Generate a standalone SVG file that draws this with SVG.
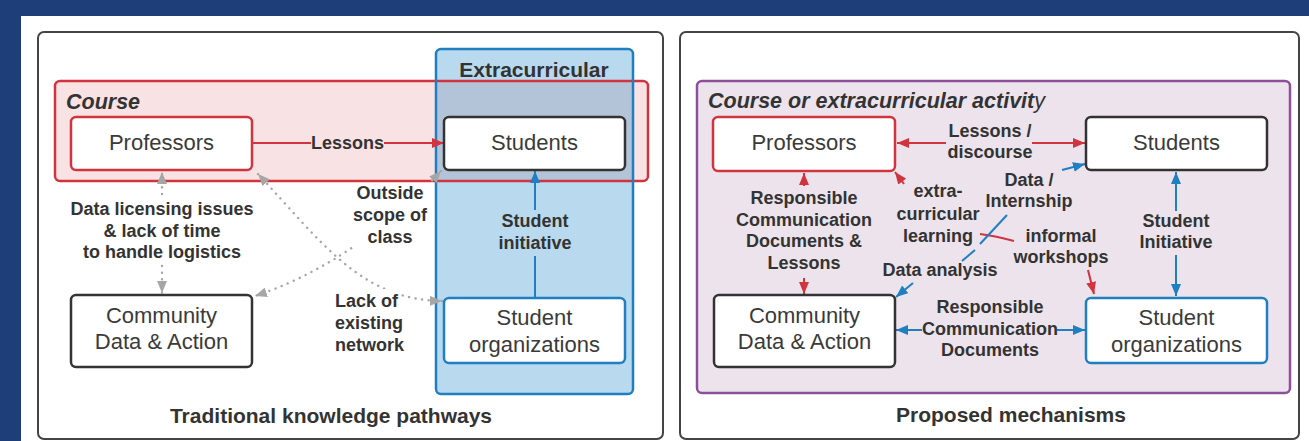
<svg xmlns="http://www.w3.org/2000/svg" width="1309" height="441" viewBox="0 0 1309 441">
  <style>
    text { font-family: "Liberation Sans", Arial, sans-serif; fill: #333; }
    .node { font-size: 22px; text-anchor: middle; fill: #3a3a3a; }
    .lbl { font-size: 18px; font-weight: bold; text-anchor: middle; }
    .lbl-l { font-size: 18px; font-weight: bold; text-anchor: start; }
    .title { font-size: 21px; font-weight: bold; text-anchor: middle; }
    .head { font-size: 21.5px; font-weight: bold; font-style: italic; }
    .panel { fill: #fff; stroke: #444; stroke-width: 2; }
    .box { fill: #fff; stroke-width: 2.5; }
    .k { stroke: #333; }
    .r { stroke: #d1343e; }
    .b { stroke: #1f7fc1; }
    .red { stroke: #d1343e; stroke-width: 2; fill: none; }
    .blue { stroke: #1f7fc1; stroke-width: 2; fill: none; }
    .dot { stroke: #a6a6a6; stroke-width: 2.4; fill: none; stroke-dasharray: 0.1 6.5; stroke-linecap: round; }
  </style>
  <defs>
    <marker id="arR" viewBox="0 0 12 10" refX="12" refY="5" markerWidth="12" markerHeight="10" markerUnits="userSpaceOnUse" orient="auto-start-reverse">
      <path d="M0,0 L12,5 L0,10 z" fill="#d1343e"/>
    </marker>
    <marker id="arB" viewBox="0 0 12 10" refX="12" refY="5" markerWidth="12" markerHeight="10" markerUnits="userSpaceOnUse" orient="auto-start-reverse">
      <path d="M0,0 L12,5 L0,10 z" fill="#1f7fc1"/>
    </marker>
    <marker id="arG" viewBox="0 0 12 10" refX="12" refY="5" markerWidth="12" markerHeight="10" markerUnits="userSpaceOnUse" orient="auto-start-reverse">
      <path d="M0,0 L12,5 L0,10 z" fill="#a6a6a6"/>
    </marker>
    <!-- keeps dotted curves out from under their labels -->
    <mask id="labelGap" maskUnits="userSpaceOnUse" x="0" y="0" width="1309" height="441">
      <rect x="0" y="0" width="1309" height="441" fill="#fff"/>
      <rect x="352" y="180" width="78" height="68" fill="#000"/>
      <rect x="332" y="289" width="68" height="22" fill="#000"/>
    </mask>
  </defs>

  <!-- page background -->
  <rect x="0" y="0" width="1309" height="441" fill="#1e3e7a"/>
  <rect x="21" y="16" width="1288" height="425" fill="#fff"/>

  <!-- ===== left panel: traditional pathways ===== -->
  <rect class="panel" x="38" y="32" width="625" height="407" rx="6"/>

  <g id="extracurricular">
    <rect x="436" y="49" width="197" height="345" rx="5" fill="#b9d9ee"/>
  </g>
  <g id="course">
    <rect x="55" y="81" width="593" height="100" rx="5" fill="#f9e2e4"/>
    <rect x="436" y="81" width="197" height="100" fill="#b3c4d8"/>
    <rect x="55" y="81" width="593" height="100" rx="5" fill="none" stroke="#d1343e" stroke-width="2.5"/>
    <text class="head" x="66" y="109">Course</text>
  </g>
  <rect x="436" y="49" width="197" height="345" rx="5" fill="none" stroke="#1f7fc1" stroke-width="2.5"/>
  <text class="title" x="534" y="77">Extracurricular</text>

  <g id="connectors-left">
    <!-- Professors to Students -->
    <path class="red" d="M252,143 H311"/>
    <path class="red" d="M384,143 H444" marker-end="url(#arR)"/>
    <text class="lbl" x="347.5" y="149">Lessons</text>

    <!-- Professors / Community -->
    <path class="dot" d="M162,194 V172" marker-end="url(#arG)"/>
    <path class="dot" d="M162,266 V293" marker-end="url(#arG)"/>
    <text class="lbl" x="162" y="215">Data licensing issues</text>
    <text class="lbl" x="162" y="237">&amp; lack of time</text>
    <text class="lbl" x="162" y="258">to handle logistics</text>

    <!-- Students / Community -->
    <path class="dot" d="M441,171 C405,210 340,268 255,296" mask="url(#labelGap)" marker-start="url(#arG)" marker-end="url(#arG)"/>
    <text class="lbl" x="390" y="199">Outside</text>
    <text class="lbl" x="390" y="221">scope of</text>
    <text class="lbl" x="390" y="243">class</text>

    <!-- Professors / Student organizations -->
    <path class="dot" d="M258,174 C320,240 360,300 442,301" mask="url(#labelGap)" marker-start="url(#arG)" marker-end="url(#arG)"/>
    <text class="lbl-l" x="335" y="307">Lack of</text>
    <text class="lbl-l" x="335" y="329">existing</text>
    <text class="lbl-l" x="335" y="351">network</text>

    <!-- Student organizations to Students -->
    <path class="blue" d="M535,210 V171" marker-end="url(#arB)"/>
    <path class="blue" d="M535,256 V298"/>
    <text class="lbl" x="535" y="227">Student</text>
    <text class="lbl" x="535" y="249">initiative</text>
  </g>

  <g id="professors-l">
    <rect class="box r" x="71" y="117" width="181" height="53" rx="5"/>
    <text class="node" x="161.5" y="150">Professors</text>
  </g>
  <g id="students-l">
    <rect class="box k" x="444" y="117" width="181" height="53" rx="5"/>
    <text class="node" x="534.5" y="150">Students</text>
  </g>
  <g id="community-l">
    <rect class="box k" x="71" y="295" width="181" height="72" rx="5"/>
    <text class="node" x="161.5" y="323">Community</text>
    <text class="node" x="161.5" y="349">Data &amp; Action</text>
  </g>
  <g id="studentorgs-l">
    <rect class="box b" x="444" y="298" width="181" height="65" rx="5"/>
    <text class="node" x="534.5" y="325">Student</text>
    <text class="node" x="534.5" y="352">organizations</text>
  </g>

  <text class="title" x="331" y="423">Traditional knowledge pathways</text>

  <!-- ===== right panel: proposed mechanisms ===== -->
  <rect class="panel" x="680" y="32" width="619" height="407" rx="6"/>

  <g id="activity">
    <rect x="697" y="81" width="593" height="312" rx="5" fill="#ece3ed" stroke="#8d4f9b" stroke-width="2.5"/>
    <text class="head" x="708" y="108">Course or extracurricular activit<tspan font-weight="normal">y</tspan></text>
  </g>

  <g id="connectors-right">
    <!-- Professors <-> Students -->
    <path class="red" d="M946,143 H897" marker-end="url(#arR)"/>
    <path class="red" d="M1032,143 H1085" marker-end="url(#arR)"/>
    <text class="lbl" x="990" y="137">Lessons /</text>
    <text class="lbl" x="990" y="158">discourse</text>

    <!-- Professors <-> Community -->
    <path class="red" d="M804,186 V173" marker-end="url(#arR)"/>
    <path class="red" d="M804,278 V294" marker-end="url(#arR)"/>
    <text class="lbl" x="804" y="204">Responsible</text>
    <text class="lbl" x="804" y="226">Communication</text>
    <text class="lbl" x="804" y="247">Documents &amp;</text>
    <text class="lbl" x="804" y="269">Lessons</text>

    <!-- Professors to Student organizations via extra-curricular learning -->
    <path class="red" d="M904,184 L895,172" marker-end="url(#arR)"/>
    <text class="lbl" x="938" y="197">extra-</text>
    <text class="lbl" x="938" y="220">curricular</text>
    <text class="lbl" x="938" y="242">learning</text>
    <path class="red" d="M980,234 Q996,236 1014,241"/>
    <text class="lbl" x="1061" y="242">informal</text>
    <text class="lbl" x="1061" y="263">workshops</text>
    <path class="red" d="M1088,270 L1094,294" marker-end="url(#arR)"/>

    <!-- Students <-> Community via data -->
    <path class="blue" d="M1062,170 L1085,164" marker-end="url(#arB)"/>
    <text class="lbl" x="1029" y="186">Data /</text>
    <text class="lbl" x="1029" y="207">Internship</text>
    <path class="blue" d="M1007,215 L980,244"/>
    <path class="blue" d="M975,250 L962,261"/>
    <text class="lbl" x="940" y="276">Data analysis</text>
    <path class="blue" d="M913,283 L896,297" marker-end="url(#arB)"/>

    <!-- Students <-> Student organizations -->
    <path class="blue" d="M1176,211 V172" marker-end="url(#arB)"/>
    <path class="blue" d="M1176,255 V296" marker-end="url(#arB)"/>
    <text class="lbl" x="1176" y="227">Student</text>
    <text class="lbl" x="1176" y="248">Initiative</text>

    <!-- Community <-> Student organizations -->
    <path class="blue" d="M922,330 H896" marker-end="url(#arB)"/>
    <path class="blue" d="M1057,330 H1085" marker-end="url(#arB)"/>
    <text class="lbl" x="990" y="313">Responsible</text>
    <text class="lbl" x="990" y="335">Communication</text>
    <text class="lbl" x="990" y="356">Documents</text>
  </g>

  <g id="professors-r">
    <rect class="box r" x="713" y="117" width="182" height="54" rx="5"/>
    <text class="node" x="804" y="150">Professors</text>
  </g>
  <g id="students-r">
    <rect class="box k" x="1086" y="117" width="181" height="53" rx="5"/>
    <text class="node" x="1176.5" y="150">Students</text>
  </g>
  <g id="community-r">
    <rect class="box k" x="714" y="295" width="181" height="72" rx="5"/>
    <text class="node" x="804.5" y="323">Community</text>
    <text class="node" x="804.5" y="349">Data &amp; Action</text>
  </g>
  <g id="studentorgs-r">
    <rect class="box b" x="1086" y="298" width="181" height="65" rx="5"/>
    <text class="node" x="1176.5" y="325">Student</text>
    <text class="node" x="1176.5" y="352">organizations</text>
  </g>

  <text class="title" x="1011" y="422">Proposed mechanisms</text>
</svg>
